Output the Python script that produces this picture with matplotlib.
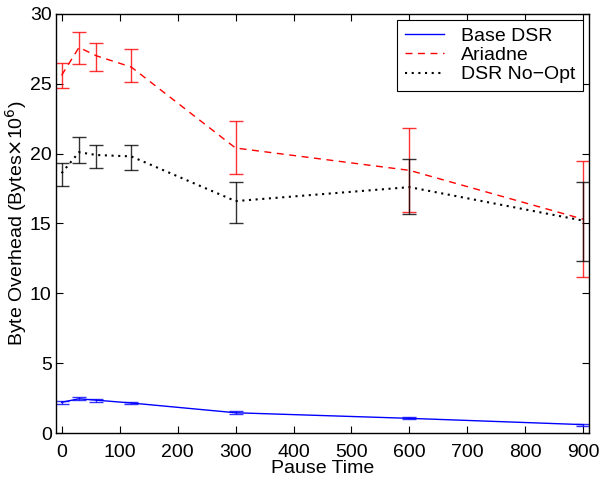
import matplotlib.pyplot as plt

plt.rcParams['font.family'] = ['Liberation Sans', 'DejaVu Sans']

pause = [0, 30, 60, 120, 300, 600, 900]

base_dsr = [2.2, 2.45, 2.35, 2.15, 1.45, 1.05, 0.6]
base_lo = [2.1, 2.35, 2.25, 2.05, 1.35, 0.97, 0.53]
base_hi = [2.3, 2.55, 2.45, 2.25, 1.55, 1.13, 0.67]

ariadne = [25.6, 27.6, 27.0, 26.2, 20.4, 18.8, 15.3]
ariadne_lo = [24.7, 26.4, 25.9, 25.1, 18.55, 15.8, 11.2]
ariadne_hi = [26.5, 28.7, 27.9, 27.5, 22.3, 21.8, 19.5]

noopt = [18.6, 20.1, 19.9, 19.8, 16.6, 17.6, 15.2]
noopt_lo = [17.7, 19.3, 19.0, 18.8, 15.0, 15.7, 12.3]
noopt_hi = [19.3, 21.2, 20.6, 20.6, 18.0, 19.6, 18.0]


def err(v, lo, hi):
    return [[a - b for a, b in zip(v, lo)], [b - a for a, b in zip(v, hi)]]


fig, ax = plt.subplots(figsize=(6, 4.79), dpi=100)
fig.subplots_adjust(left=0.093, right=0.982, top=0.971, bottom=0.096)

ax.plot(pause, base_dsr, '-', color='blue', lw=1, label='Base DSR')
ax.plot(pause, ariadne, '--', color='red', lw=1, dashes=(5, 4), label='Ariadne')
ax.plot(pause, noopt, ':', color='black', lw=1.5, dashes=(1, 2.2), label='DSR No\u2212Opt')

ax.errorbar(pause, base_dsr, yerr=err(base_dsr, base_lo, base_hi), fmt='none',
            ecolor='blue', elinewidth=1, capsize=5, alpha=0.8)
ax.errorbar(pause, ariadne, yerr=err(ariadne, ariadne_lo, ariadne_hi), fmt='none',
            ecolor='red', elinewidth=1, capsize=5, alpha=0.8)
ax.errorbar(pause, noopt, yerr=err(noopt, noopt_lo, noopt_hi), fmt='none',
            ecolor='black', elinewidth=1, capsize=5, alpha=0.8)

ax.set_xlim(-10, 910)
ax.set_ylim(0, 30)
ax.set_xticks(range(0, 1000, 100))
ax.set_yticks(range(0, 35, 5))
ax.tick_params(direction='in', top=True, right=True, labelsize=14, length=5)
ax.tick_params(axis='x', pad=8)
ax.tick_params(axis='y', pad=3)
for s in ax.spines.values():
    s.set_linewidth(1)

ax.set_xlabel('Pause Time', fontsize=14, labelpad=-0.5)
ax.set_ylabel('Byte Overhead (Bytes$\\times$10$^6$)', fontsize=14, labelpad=0.5)

leg = ax.legend(loc='upper right', fontsize=14, fancybox=False, edgecolor='black',
                framealpha=1, handlelength=2.0, handletextpad=0.9, borderaxespad=0.3,
                labelspacing=0.08, borderpad=0.4)
leg.get_frame().set_linewidth(0.8)

fig.savefig('out.png', dpi=100)
